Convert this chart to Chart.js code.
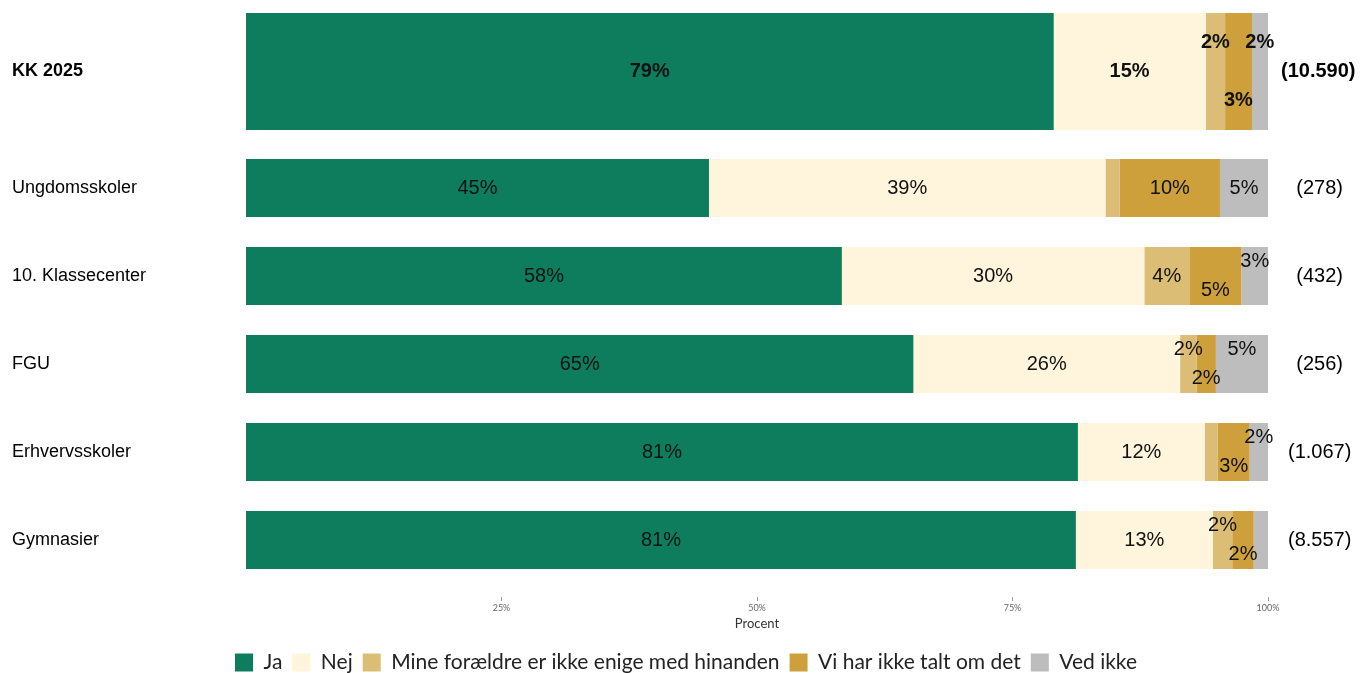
<!DOCTYPE html>
<html>
<head>
<meta charset="utf-8">
<script src="https://cdn.jsdelivr.net/npm/chart.js@4.4.1/dist/chart.umd.min.js"></script>
<style>
html, body { margin: 0; padding: 0; background: #fff; overflow: hidden; }
#wrap { position: relative; width: 1360px; height: 673px; }
#topBox { position: absolute; left: 0; top: 0; }
#bottomBox { position: absolute; left: 0; top: 130px; }
</style>
</head>
<body>
<div id="wrap">
  <div id="topBox"><canvas id="topChart" width="1360" height="143"></canvas></div>
  <div id="bottomBox"><canvas id="bottomChart" width="1360" height="553"></canvas></div>
</div>
<script>
const categories = ['KK 2025', 'Ungdomsskoler', '10. Klassecenter', 'FGU', 'Erhvervsskoler', 'Gymnasier'];
const counts = ['(10.590)', '(278)', '(432)', '(256)', '(1.067)', '(8.557)'];
const seriesNames = ['Ja', 'Nej', 'Mine forældre er ikke enige med hinanden', 'Vi har ikke talt om det', 'Ved ikke'];
const ja = [79.0, 45.3, 58.3, 65.3, 81.4, 81.2];
const nej = [14.9, 38.8, 29.6, 26.1, 12.4, 13.4];
const uenige = [1.9, 1.4, 4.4, 1.6, 1.3, 1.9];
const ikkeTalt = [2.6, 9.8, 5.1, 1.9, 3.1, 2.1];
const vedIkke = [1.6, 4.7, 2.6, 5.1, 1.8, 1.4];
const xTicks = [25, 50, 75, 100];
// where the % label sits: c = middle, u = upper half, d = lower half, '' = no label
const labelPos = [
    ['c', 'c', 'u', 'd', 'u'],
    ['c', 'c', '', 'c', 'c'],
    ['c', 'c', 'c', 'd', 'u'],
    ['c', 'c', 'u', 'd', 'u'],
    ['c', 'c', '', 'd', 'u'],
    ['c', 'c', 'u', 'd', '']
];

const colors = ['#0e7d5e', '#fff5dc', '#dcbd76', '#cda03c', '#bdbdbd'];
const allSeries = [ja, nej, uenige, ikkeTalt, vedIkke];
const sans = '"Liberation Sans", Arial, sans-serif';

const barLabels = {
    id: 'barLabels',
    afterDatasetsDraw(chart, args, opts) {
        const ctx = chart.ctx;
        ctx.save();
        ctx.font = opts.font;
        ctx.fillStyle = '#111';
        ctx.textAlign = 'center';
        ctx.textBaseline = 'middle';
        chart.data.datasets.forEach((ds, di) => {
            chart.getDatasetMeta(di).data.forEach((bar, i) => {
                const pos = opts.pos[i][di];
                if (!pos) return;
                const p = bar.getProps(['x', 'y', 'base', 'height'], true);
                let y = p.y;
                if (pos === 'u') y -= p.height / 4;
                if (pos === 'd') y += p.height / 4;
                ctx.fillText(Math.round(ds.data[i]) + '%', (p.x + p.base) / 2, y);
            });
        });
        ctx.restore();
    }
};

function makeDatasets(from, to, barPct) {
    return allSeries.map((s, k) => ({
        label: seriesNames[k],
        data: s.slice(from, to),
        backgroundColor: colors[k],
        borderWidth: 0,
        categoryPercentage: 1,
        barPercentage: barPct
    }));
}

// category axes: fixed width, no extra padding for half labels
function sideAxis(width) {
    return s => {
        s.width = width;
        s.paddingTop = 0;
        s.paddingBottom = 0;
    };
}

// top chart: KK 2025 alone, thicker bar
new Chart(document.getElementById('topChart'), {
    type: 'bar',
    data: { labels: categories.slice(0, 1), datasets: makeDatasets(0, 1, 1) },
    options: {
        indexAxis: 'y',
        responsive: false,
        animation: false,
        layout: { padding: { left: 12, top: 13, bottom: 13 } },
        plugins: {
            legend: { display: false },
            tooltip: { enabled: false },
            barLabels: { font: 'bold 20px ' + sans, pos: labelPos.slice(0, 1) }
        },
        scales: {
            x: { stacked: true, min: 0, max: 100, display: false },
            y: {
                stacked: true,
                grid: { display: false, drawTicks: false },
                border: { display: false },
                ticks: { crossAlign: 'far', color: '#000', font: { family: sans, size: 18, weight: 'bold' } },
                afterFit: sideAxis(234)
            },
            y2: {
                type: 'category',
                position: 'right',
                labels: counts.slice(0, 1),
                offset: true,
                grid: { display: false, drawTicks: false },
                border: { display: false },
                ticks: { crossAlign: 'center', padding: 13, color: '#000', font: { family: sans, size: 20, weight: 'bold' } },
                afterFit: sideAxis(92)
            }
        }
    },
    plugins: [barLabels]
});

// bottom chart: the five school types, axis and legend
new Chart(document.getElementById('bottomChart'), {
    type: 'bar',
    data: { labels: categories.slice(1), datasets: makeDatasets(1, 6, 0.659) },
    options: {
        indexAxis: 'y',
        responsive: false,
        animation: false,
        layout: { padding: { left: 12, top: 14, bottom: 0 } },
        plugins: {
            tooltip: { enabled: false },
            legend: {
                position: 'bottom',
                labels: {
                    boxWidth: 18,
                    boxHeight: 18,
                    padding: 10,
                    color: '#222',
                    font: { family: 'Lato, sans-serif', size: 21 }
                }
            },
            barLabels: { font: '20px ' + sans, pos: labelPos.slice(1) }
        },
        scales: {
            x: {
                stacked: true,
                min: 0,
                max: 100,
                afterBuildTicks: s => { s.ticks = xTicks.map(v => ({ value: v })); },
                grid: {
                    drawOnChartArea: false,
                    drawTicks: true,
                    tickLength: 17,
                    tickColor: '#999',
                    tickBorderDash: [4, 13],
                    tickBorderDashOffset: 4
                },
                border: { display: false },
                ticks: {
                    padding: 2,
                    color: '#666',
                    font: { family: 'Lato, sans-serif', size: 9 },
                    callback: v => v + '%'
                },
                title: {
                    display: true,
                    text: 'Procent',
                    color: '#333',
                    padding: { top: 0, bottom: 10.6 },
                    font: { family: 'Lato, sans-serif', size: 13 }
                }
            },
            y: {
                stacked: true,
                grid: { display: false, drawTicks: false },
                border: { display: false },
                ticks: { crossAlign: 'far', color: '#000', font: { family: sans, size: 18 } },
                afterFit: sideAxis(234)
            },
            y2: {
                type: 'category',
                position: 'right',
                labels: counts.slice(1),
                offset: true,
                grid: { display: false, drawTicks: false },
                border: { display: false },
                ticks: { crossAlign: 'center', padding: 20, color: '#000', font: { family: sans, size: 20 } },
                afterFit: sideAxis(92)
            }
        }
    },
    plugins: [barLabels]
});
</script>
</body>
</html>
